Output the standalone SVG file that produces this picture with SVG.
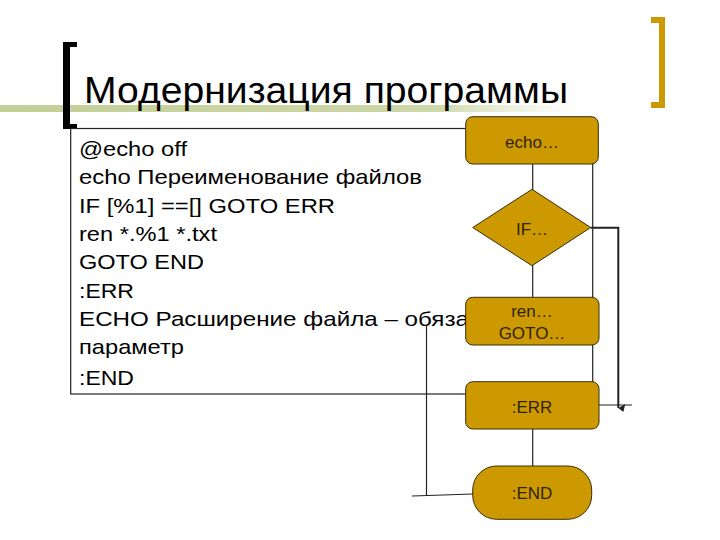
<svg xmlns="http://www.w3.org/2000/svg" width="720" height="540" viewBox="0 0 720 540">
<defs>
<linearGradient id="bar" x1="0" y1="0" x2="1" y2="0">
<stop offset="0" stop-color="#c3cf96" stop-opacity="1"/>
<stop offset="0.75" stop-color="#c8d39e" stop-opacity="0.9"/>
<stop offset="1" stop-color="#d8e0b8" stop-opacity="0"/>
</linearGradient>
<marker id="ah" markerWidth="8" markerHeight="8" refX="4" refY="7" orient="auto" markerUnits="userSpaceOnUse">
<path d="M0,0 L8,2 L4,7 Z" fill="#222"/>
</marker>
<style>
.code{font-family:"Liberation Sans",Arial,sans-serif;font-size:21px;fill:#000}
.lbl{font-family:"Liberation Sans",Arial,sans-serif;font-size:17px;fill:#2e2400;text-anchor:middle}
.node{fill:#cc9900;stroke:#3a2e08;stroke-width:1}
.ln{stroke:#222;stroke-width:1.2;fill:none}
</style>
</defs>
<rect width="720" height="540" fill="#fff"/>
<g id="decor">
<rect x="0" y="105" width="578" height="7" fill="url(#bar)"/>
<path d="M63,42 H77 V47 H70 V124 H77 V129 H63 Z" fill="#000"/>
<path d="M651,17 H665 V108 H651 V102 H659 V23 H651 Z" fill="#cc9900"/>
</g>
<text id="title" x="84" y="103" font-family="'Liberation Sans',Arial,sans-serif" font-size="37" fill="#000" textLength="484" lengthAdjust="spacingAndGlyphs">Модернизация программы</text>
<g id="codebox">
<rect x="70.7" y="128.5" width="522" height="265.5" fill="none" stroke="#222" stroke-width="1.2"/>
<text class="code" x="79" y="156" textLength="108" lengthAdjust="spacingAndGlyphs">@echo off</text>
<text class="code" x="79" y="184" textLength="343" lengthAdjust="spacingAndGlyphs">echo Переименование файлов</text>
<text class="code" x="79" y="213" textLength="256" lengthAdjust="spacingAndGlyphs">IF [%1] ==[] GOTO ERR</text>
<text class="code" x="79" y="241" textLength="138" lengthAdjust="spacingAndGlyphs">ren *.%1 *.txt</text>
<text class="code" x="79" y="269" textLength="125" lengthAdjust="spacingAndGlyphs">GOTO END</text>
<text class="code" x="79" y="298" textLength="55" lengthAdjust="spacingAndGlyphs">:ERR</text>
<text class="code" x="79" y="326" textLength="390" lengthAdjust="spacingAndGlyphs">ECHO Расширение файла – обяза</text>
<text class="code" x="79" y="354" textLength="105" lengthAdjust="spacingAndGlyphs">параметр</text>
<text class="code" x="79" y="385" textLength="55" lengthAdjust="spacingAndGlyphs">:END</text>
</g>
<g id="connectors">
<line class="ln" x1="532.7" y1="164" x2="532.7" y2="190"/>
<line class="ln" x1="532.7" y1="265" x2="532.7" y2="298"/>
<line class="ln" x1="532.7" y1="429" x2="532.7" y2="466"/>
<path d="M590.7,227.7 H618.3 V408" fill="none" stroke="#222" stroke-width="2" marker-end="url(#ah)"/>
<line class="ln" x1="598" y1="405" x2="632" y2="405"/>
<path class="ln" d="M426.5,325 V495.5"/>
<path class="ln" d="M412,496 L473,494"/>
</g>
<g id="n-echo">
<rect class="node" x="465.7" y="116.7" width="132.6" height="47.3" rx="7"/>
<text class="lbl" x="532" y="148">echo…</text>
</g>
<g id="n-if">
<polygon class="node" points="532,189.3 590.7,227.5 532,265.7 472.7,227.5"/>
<text class="lbl" x="532" y="235">IF…</text>
</g>
<g id="n-ren">
<rect class="node" x="465.7" y="297.3" width="133.3" height="47.7" rx="7"/>
<text class="lbl" x="532" y="317">ren…</text>
<text class="lbl" x="532" y="339">GOTO…</text>
</g>
<g id="n-err">
<rect class="node" x="465.7" y="381.7" width="133.3" height="47.3" rx="7"/>
<text class="lbl" x="532" y="413">:ERR</text>
</g>
<g id="n-end">
<rect class="node" x="472.7" y="466" width="119" height="53.3" rx="24"/>
<text class="lbl" x="532" y="499">:END</text>
</g>
</svg>
